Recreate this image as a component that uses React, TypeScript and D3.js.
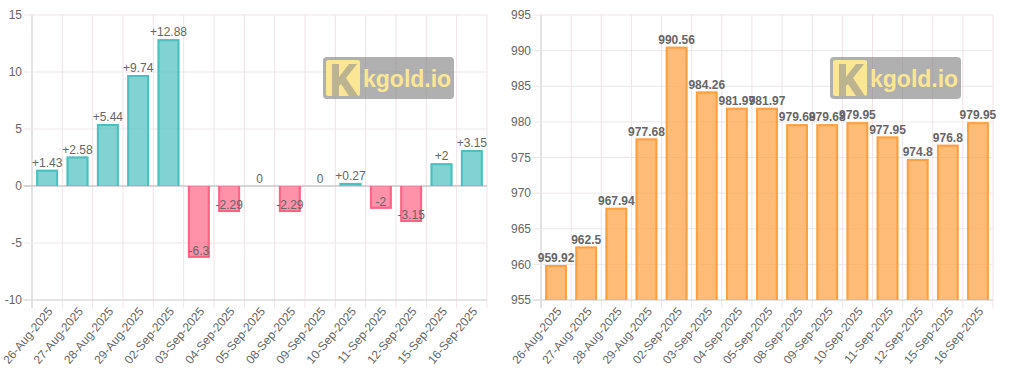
import React from "react";
import * as d3 from "d3";

const dates = [
  "26-Aug-2025", "27-Aug-2025", "28-Aug-2025", "29-Aug-2025", "02-Sep-2025",
  "03-Sep-2025", "04-Sep-2025", "05-Sep-2025", "08-Sep-2025", "09-Sep-2025",
  "10-Sep-2025", "11-Sep-2025", "12-Sep-2025", "15-Sep-2025", "16-Sep-2025",
];
const changes = [1.43, 2.58, 5.44, 9.74, 12.88, -6.3, -2.29, 0, -2.29, 0, 0.27, -2, -3.15, 2, 3.15];
const prices = [959.92, 962.5, 967.94, 977.68, 990.56, 984.26, 981.97, 981.97, 979.68, 979.68, 979.95, 977.95, 974.8, 976.8, 979.95];
const changeTicks = [-10, -5, 0, 5, 10, 15];
const priceTicks = [955, 960, 965, 970, 975, 980, 985, 990, 995];

const FONT = "'Liberation Sans', Arial, Helvetica, sans-serif";
const GRID_H = "#ebe7e8";
const GRID_V = "#f1e2e6";

const fmtChange = (v: number) => (v > 0 ? "+" + v : String(v));

type ChartProps = {
  values: number[];
  ticks: number[];
  domain: [number, number];
  left: number;
  right: number;
  top: number;
  bottom: number;
  fill: (v: number) => string;
  stroke: (v: number) => string;
  label: (v: number) => string;
  bold: boolean;
  zeroLine?: number;
};

const Watermark = ({ x, y }: { x: number; y: number }) => (
  <g transform={`translate(${x},${y})`}>
    <rect x={0} y={0} width={131} height={42} rx={4} fill="rgba(128,128,128,0.62)" />
    <rect x={3} y={3} width={34} height={36} rx={2} fill="#fbe793" />
    <path d="M9,7 h7 v13 l10,-13 h8 l-11,14 l12,18 h-9 l-8,-12 l-2,2 v10 h-7 z" fill="#b0a98f" opacity={0.85} />
    <text x={40} y={30} fontFamily={FONT} fontWeight="bold" fontSize={23} fill="#fbe793">kgold.io</text>
  </g>
);

const BarChart = (p: ChartProps) => {
  const x = d3.scaleBand<string>().domain(dates).range([p.left, p.right]).paddingInner(0).paddingOuter(0);
  const y = d3.scaleLinear().domain(p.domain).range([p.bottom, p.top]);
  const bw = x.bandwidth() * 0.72;
  const base = p.zeroLine !== undefined ? y(p.zeroLine) : p.bottom;
  const bounds = dates.map((d) => x(d) as number).concat([p.right]);

  return (
    <g>
      {/* vertical grid */}
      {bounds.map((b, i) => (
        <line
          key={"v" + i}
          x1={b}
          x2={b}
          y1={p.top}
          y2={p.bottom + 8}
          stroke={i === 0 ? "#d8d8d8" : GRID_V}
          strokeWidth={i === 0 ? 1.5 : 1}
        />
      ))}
      {/* horizontal grid + ticks */}
      {p.ticks.map((t) => (
        <g key={"h" + t}>
          <line
            x1={p.left - 8}
            x2={p.right}
            y1={y(t)}
            y2={y(t)}
            stroke={t === p.zeroLine ? "#c8c8c8" : t === p.domain[0] ? "#dcdcdc" : t === p.domain[1] ? GRID_V : GRID_H}
            strokeWidth={t === p.domain[0] || t === p.zeroLine ? 1.5 : 1}
          />
          <text x={p.left - 10} y={y(t)} dy="0.35em" textAnchor="end" fontFamily={FONT} fontSize={12} fill="#666">
            {t}
          </text>
        </g>
      ))}
      {/* bars */}
      {p.values.map((v, i) => {
        const cx = (x(dates[i]) as number) + x.bandwidth() / 2;
        const yv = y(v);
        const y0 = Math.min(yv, base);
        const h = Math.abs(base - yv);
        const x0 = cx - bw / 2;
        const edge = v >= 0 ? `M${x0 + 1},${base} V${yv + 1} H${x0 + bw - 1} V${base}` : `M${x0 + 1},${base} V${yv - 1} H${x0 + bw - 1} V${base}`;
        return (
          <g key={"b" + i}>
            {h > 0 && <rect x={x0} y={y0} width={bw} height={h} fill={p.fill(v)} />}
            {h > 0 && <path d={edge} fill="none" stroke={p.stroke(v)} strokeWidth={2} />}
          </g>
        );
      })}
      {/* value labels */}
      {p.values.map((v, i) => {
        const cx = (x(dates[i]) as number) + x.bandwidth() / 2;
        const ly = y(v) - 7;
        return (
          <text
            key={"l" + i}
            x={cx}
            y={ly}
            dy="0.35em"
            textAnchor="middle"
            fontFamily={FONT}
            fontSize={12}
            fontWeight={p.bold ? "bold" : "normal"}
            fill="#666"
          >
            {p.label(v)}
          </text>
        );
      })}
      {/* x labels */}
      {dates.map((d, i) => {
        const cx = (x(d) as number) + x.bandwidth() / 2;
        return (
          <text
            key={"x" + i}
            transform={`translate(${cx + 3},${p.bottom + 9}) rotate(-50)`}
            textAnchor="end"
            dy="0.35em"
            fontFamily={FONT}
            fontSize={12}
            fill="#666"
          >
            {d}
          </text>
        );
      })}
    </g>
  );
};

export default function App() {
  return (
    <svg
      width={1024}
      height={373}
      style={{ position: "absolute", left: 0, top: 0, background: "#fff" }}
    >
      <BarChart
        values={changes}
        ticks={changeTicks}
        domain={[-10, 15]}
        left={32}
        right={487}
        top={15}
        bottom={300}
        zeroLine={0}
        fill={(v) => (v >= 0 ? "rgba(75,192,192,0.7)" : "rgba(255,99,132,0.7)")}
        stroke={(v) => (v >= 0 ? "rgb(75,192,192)" : "rgb(255,99,132)")}
        label={fmtChange}
        bold={false}
      />
      <Watermark x={323} y={57} />
      <BarChart
        values={prices}
        ticks={priceTicks}
        domain={[955, 995]}
        left={541}
        right={993}
        top={15}
        bottom={300}
        fill={() => "rgba(255,159,64,0.7)"}
        stroke={() => "rgb(255,159,64)"}
        label={(v) => String(v)}
        bold={true}
      />
      <Watermark x={830} y={57} />
    </svg>
  );
}
